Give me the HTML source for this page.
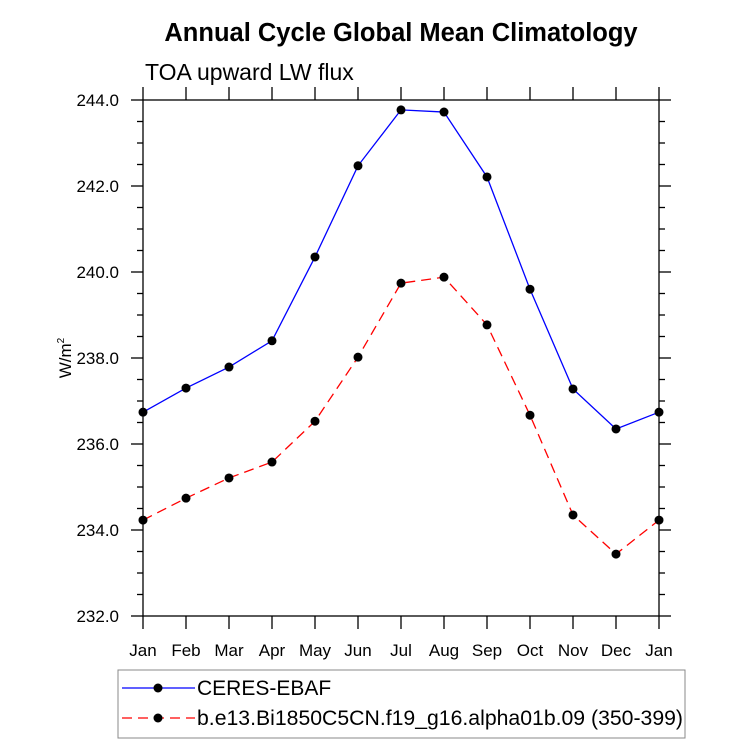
<!DOCTYPE html>
<html><head><meta charset="utf-8"><style>body{margin:0;background:#fff}svg{display:block;font-family:"Liberation Sans",sans-serif}</style></head>
<body>
<svg id="c" width="733" height="744"></svg>
<script>
const months=["Jan","Feb","Mar","Apr","May","Jun","Jul","Aug","Sep","Oct","Nov","Dec","Jan"];
const ceres=[236.74,237.30,237.79,238.40,240.35,242.47,243.77,243.72,242.21,239.60,237.28,236.35,236.74];
const model=[234.23,234.74,235.21,235.58,236.53,238.02,239.74,239.88,238.77,236.67,234.35,233.44,234.23];
const yTicks=["232.0","234.0","236.0","238.0","240.0","242.0","244.0"];
const X0=143,X1=659,Y0=616,Y1=100,ymin=232,ymax=244;
const sx=i=>X0+(X1-X0)*i/12, sy=v=>Y0-(v-ymin)/(ymax-ymin)*(Y0-Y1);
const NS="http://www.w3.org/2000/svg",svg=document.getElementById('c');
function mk(t,a,p){const e=document.createElementNS(NS,t);for(const k in a)e.setAttribute(k,a[k]);(p||svg).appendChild(e);return e;}
let t=mk('text',{x:401,y:41,'text-anchor':'middle','font-size':25.5,'font-weight':'bold'});t.textContent="Annual Cycle Global Mean Climatology";


t=mk('text',{x:145,y:80,'font-size':23});t.textContent="TOA upward LW flux";


t=mk('text',{x:0,y:0,'font-size':17,transform:'translate(71,358) rotate(-90)','text-anchor':'middle'});t.innerHTML='W/m<tspan font-size="10" dy="-7">2</tspan>';


const ax=mk('g',{stroke:'#000','stroke-width':1.3,fill:'none'});


mk('rect',{x:X0,y:Y1,width:X1-X0,height:Y0-Y1},ax);
for(let v=ymin;v<=ymax+1e-9;v+=0.5){const y=sy(v),maj=Math.abs(v-Math.round(v/2)*2)<1e-9;const L=maj?12:6;
mk('line',{x1:X0-L,x2:X0,y1:y,y2:y},ax);mk('line',{x1:X1,x2:X1+L,y1:y,y2:y},ax);}
yTicks.forEach(s=>{const e=mk('text',{x:119,y:sy(+s)+6,'text-anchor':'end','font-size':17});e.textContent=s;

});
months.forEach((m,i)=>{const x=sx(i);mk('line',{x1:x,x2:x,y1:Y0,y2:Y0+13},ax);mk('line',{x1:x,x2:x,y1:Y1-13,y2:Y1},ax);
const e=mk('text',{x:x,y:656,'text-anchor':'middle','font-size':17});e.textContent=m;

});
function series(d,col,dash,name){const g=mk('g',{});


mk('polyline',{points:d.map((v,i)=>sx(i)+','+sy(v)).join(' '),fill:'none',stroke:col,'stroke-width':1.3,'stroke-dasharray':dash},g);
d.forEach((v,i)=>{const c=mk('circle',{cx:sx(i),cy:sy(v),r:4.5,fill:'#000'},g);

});}
series(ceres,'#0000ff','none','ceres-series');
series(model,'#ff0000','10 6','model-series');
const lg=mk('g',{});


mk('rect',{x:118,y:670,width:567,height:68,fill:'none',stroke:'#888','stroke-width':1},lg);
[['#0000ff','none','CERES-EBAF',688],['#ff0000','10 6','b.e13.Bi1850C5CN.f19_g16.alpha01b.09 (350-399)',718]].forEach(([c,d,s,y])=>{
mk('line',{x1:122,x2:195,y1:y,y2:y,stroke:c,'stroke-width':1.3,'stroke-dasharray':d},lg);
mk('circle',{cx:158,cy:y,r:4.5,fill:'#000'},lg);
const e=mk('text',{x:197,y:y+7,'font-size':21,textLength:486,lengthAdjust:'spacingAndGlyphs'},lg);e.textContent=s;
if(s.length<20)e.removeAttribute('textLength');

});
</script>
</body></html>
